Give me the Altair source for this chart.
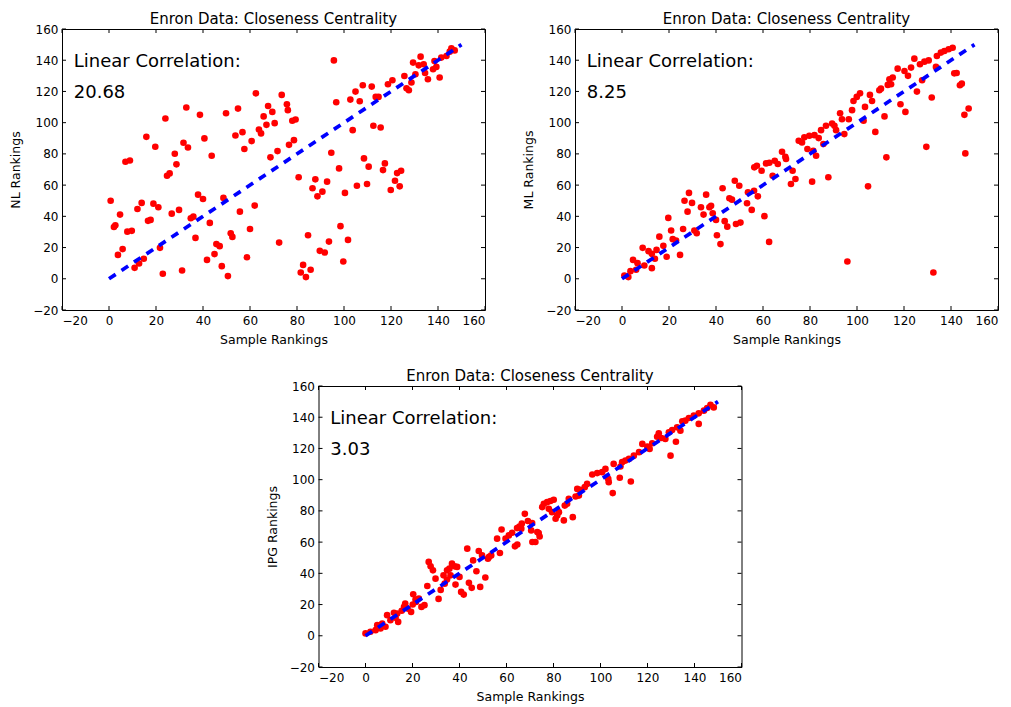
import altair as alt
import pandas as pd

# ---------------- data ----------------
nl_x = [62.5, 73.5, 32.9, 67.7, 38.7, 49.8, 54.9, 65.8, 69.5, 24.0, 67.0, 70.5, 63.8, 64.7, 56.8,
        53.8, 15.9, 40.6, 60.7, 31.7, 33.6, 19.7, 57.6, 71.7, 28.0, 43.7, 68.7, 7.0, 8.9, 28.7,
        24.7, 25.8, 95.7, 132.6, 129.4, 131.8, 133.9, 134.5, 135.7, 137.9, 139.3, 140.7, 130.4,
        141.4, 143.6, 145.7, 147.1, 145.0, 138.5, 125.7, 120.6, 118.7, 128.7, 126.6, 127.6, 108.0,
        111.8, 104.9, 113.5, 114.7, 102.7, 106.7, 96.7, 75.7, 76.1, 78.0, 79.4, 112.5, 115.6,
        103.7, 78.7, 76.6, 94.6, 108.5, 117.4, 97.9, 110.5, 116.6, 124.3, 122.6, 0.7, 4.7, 2.1,
        2.7, 7.8, 9.7, 3.8, 5.8, 10.9, 12.8, 14.8, 12.1, 13.9, 16.6, 17.7, 18.9, 21.0, 21.7, 22.9,
        26.7, 29.8, 31.1, 34.8, 35.9, 36.8, 37.9, 40.0, 42.9, 48.7, 41.7, 44.9, 45.7, 47.1, 48.0,
        50.6, 51.8, 52.5, 55.7, 60.0, 58.7, 62.0, 72.4, 80.7, 87.8, 86.6, 92.8, 90.8, 88.7, 100.4,
        105.5, 109.8, 119.9, 121.7, 123.7, 84.7, 98.5, 101.7, 93.6, 89.7, 91.8, 99.7, 82.6, 81.6,
        85.8, 83.8]
nl_y = [118.8, 117.8, 109.7, 110.7, 105.0, 106.0, 109.0, 104.0, 106.9, 102.7, 98.6, 99.7, 95.6,
        93.1, 93.9, 91.8, 90.9, 89.9, 88.2, 87.1, 84.1, 84.6, 83.1, 81.8, 80.1, 78.8, 77.8, 75.0,
        75.8, 73.3, 66.0, 67.5, 139.9, 142.3, 138.5, 136.7, 137.4, 131.8, 127.8, 134.2, 135.7,
        128.9, 131.0, 141.7, 142.7, 147.6, 146.3, 145.5, 139.5, 129.9, 127.2, 124.6, 125.7, 122.0,
        120.8, 124.0, 123.1, 119.9, 116.5, 116.5, 114.8, 113.7, 113.1, 111.8, 108.0, 101.2, 102.0,
        98.0, 96.9, 95.2, 88.8, 85.8, 80.7, 77.1, 73.9, 70.7, 71.8, 69.6, 69.2, 67.7, 50.0, 41.1,
        33.2, 34.3, 30.2, 30.7, 15.3, 19.0, 7.0, 9.8, 12.8, 44.7, 48.6, 37.1, 37.7, 48.1, 45.8,
        19.8, 3.2, 41.7, 44.1, 5.3, 38.8, 39.8, 26.2, 53.9, 51.1, 35.8, 51.8, 12.1, 15.8, 22.2,
        20.9, 8.1, 1.7, 29.2, 26.8, 43.0, 31.9, 13.8, 46.9, 23.2, 65.0, 63.7, 58.0, 62.2, 55.8,
        52.8, 55.0, 59.6, 60.7, 56.9, 62.8, 59.2, 27.9, 33.7, 24.9, 23.8, 17.9, 16.8, 11.1, 8.9,
        4.0, 5.8, 1.1]

ml_x = [68.1, 65.0, 62.7, 61.3, 66.3, 56.3, 57.4, 59.4, 69.8, 64.1, 71.9, 48.0, 49.9, 42.8, 28.5,
        26.6, 29.8, 35.8, 45.7, 46.8, 53.6, 53.2, 55.2, 56.2, 57.8, 33.6, 27.9, 37.2, 37.9, 34.7,
        38.6, 40.0, 43.7, 44.8, 48.5, 50.4, 19.7, 26.0, 20.9, 30.8, 31.8, 40.4, 41.9, 60.6, 62.6,
        15.9, 21.6, 23.0, 17.6, 19.0, 24.7, 8.8, 11.3, 12.7, 14.7, 14.0, 4.7, 6.6, 9.5, 12.7, 6.0,
        3.6, 1.0, 2.7, 140.7, 139.0, 137.2, 135.7, 134.0, 130.5, 128.7, 126.8, 124.4, 123.0, 121.7,
        120.2, 117.3, 115.2, 113.8, 114.5, 113.1, 110.2, 109.5, 105.5, 101.3, 99.9, 98.5, 106.4,
        103.4, 97.9, 92.8, 93.6, 96.5, 89.4, 90.4, 86.8, 84.7, 91.1, 94.6, 102.8, 111.7, 107.8,
        81.9, 79.7, 77.6, 75.2, 76.6, 83.7, 85.7, 78.9, 81.4, 82.6, 69.5, 72.6, 118.5, 120.6,
        125.5, 127.7, 131.8, 133.6, 141.4, 142.4, 143.8, 144.6, 145.7, 147.5, 146.1, 129.5, 112.5,
        73.8, 80.9, 87.8, 104.7, 95.9, 132.5]
ml_y = [81.4, 75.6, 74.3, 73.9, 73.5, 71.4, 72.4, 69.2, 76.7, 66.0, 60.7, 62.8, 59.6, 58.0, 55.0,
        50.0, 48.6, 53.9, 51.6, 50.7, 55.4, 48.4, 44.1, 56.4, 52.8, 45.8, 43.0, 45.8, 46.8, 41.1,
        42.0, 37.7, 36.9, 33.4, 35.1, 36.0, 39.0, 31.9, 30.9, 30.9, 29.2, 27.9, 22.2, 40.1, 23.6,
        27.0, 25.4, 24.5, 21.1, 14.1, 15.3, 19.8, 17.7, 16.0, 18.5, 12.8, 12.1, 10.0, 8.5, 6.8, 5.8,
        4.9, 2.1, 1.1, 148.0, 147.0, 145.9, 144.9, 142.7, 139.9, 139.1, 137.4, 141.0, 135.3, 130.0,
        133.1, 134.6, 128.9, 127.8, 124.6, 124.2, 121.8, 120.8, 117.8, 118.8, 116.5, 113.9, 113.9,
        110.1, 108.0, 106.0, 102.2, 102.2, 99.5, 98.0, 98.0, 95.2, 95.2, 92.7, 101.2, 104.0, 94.1,
        92.0, 91.6, 90.6, 88.4, 87.3, 90.1, 86.3, 83.1, 82.0, 78.8, 78.1, 69.2, 111.8, 106.9,
        119.9, 127.2, 116.1, 135.7, 131.6, 131.8, 124.0, 125.0, 105.0, 109.1, 80.3, 84.5, 77.8,
        63.9, 62.2, 65.0, 59.2, 11.1, 4.0]

ipg_x = [67.8, 69.1, 65.5, 64.5, 57.9, 62.4, 70.5, 146.8, 148.2, 145.4, 144.0, 141.8, 139.7, 137.6,
         136.1, 134.8, 141.8, 132.6, 130.5, 129.1, 134.0, 124.8, 124.1, 125.9, 127.6, 132.1, 122.0,
         119.9, 120.9, 117.8, 116.4, 129.8, 114.2, 112.1, 110.6, 105.6, 108.5, 109.2, 102.1, 100.7,
         98.6, 96.5, 103.3, 103.5, 108.2, 112.9, 105.2, 94.3, 93.3, 91.5, 90.1, 90.8, 89.4, 86.5,
         85.8, 84.8, 80.1, 78.7, 77.3, 75.9, 75.2, 78.0, 79.4, 82.3, 81.6, 80.9, 84.4, 88.2, 70.9,
         73.7, 0.0, 2.1, 4.3, 5.0, 7.1, 8.5, 6.4, 9.2, 10.6, 12.8, 13.5, 12.1, 13.9, 15.4, 16.4,
         17.9, 16.9, 19.4, 20.1, 21.5, 20.3, 23.8, 25.1, 22.7, 21.3, 26.3, 26.9, 27.7, 28.7, 29.8,
         32.0, 31.1, 33.2, 34.7, 35.7, 36.8, 37.9, 36.2, 34.7, 33.7, 39.0, 40.0, 38.3, 40.7, 41.8,
         43.3, 44.0, 45.2, 45.8, 48.2, 47.2, 48.8, 51.0, 49.6, 52.1, 52.6, 53.5, 56.0, 57.2, 59.6,
         61.0, 63.6, 64.6, 66.3, 66.5, 71.0, 73.1, 74.1, 72.3]
ipg_y = [78.1, 73.5, 70.0, 69.0, 68.1, 66.0, 67.5, 148.0, 146.3, 145.9, 144.2, 142.5, 141.0, 139.5,
         137.8, 137.4, 135.7, 133.5, 131.8, 130.4, 131.4, 129.7, 127.5, 126.7, 126.1, 124.3, 123.3,
         121.2, 119.7, 122.9, 117.6, 115.4, 115.4, 113.3, 112.2, 110.1, 108.4, 111.2, 106.9, 104.8,
         104.2, 103.3, 100.5, 98.4, 101.2, 98.8, 91.4, 97.3, 95.2, 93.5, 94.1, 89.8, 89.2, 87.7,
         84.5, 83.4, 87.1, 86.3, 85.6, 84.5, 82.4, 81.3, 79.2, 79.2, 77.1, 75.0, 73.9, 76.0, 72.2,
         65.8, 1.5, 2.6, 3.6, 6.8, 7.9, 5.8, 4.7, 13.2, 10.0, 11.5, 14.2, 14.7, 8.9, 16.0, 18.5,
         17.4, 20.6, 15.3, 20.0, 21.7, 26.6, 18.5, 19.6, 23.8, 23.2, 31.9, 47.3, 44.5, 41.9, 36.6,
         29.4, 23.6, 38.7, 41.9, 43.0, 46.2, 44.5, 38.7, 36.0, 33.4, 44.1, 37.7, 32.8, 28.1, 26.4,
         55.8, 33.9, 30.7, 48.3, 54.3, 41.3, 31.3, 37.3, 51.5, 49.4, 50.5, 51.5, 62.2, 53.0, 62.2,
         64.3, 57.3, 58.5, 68.6, 71.8, 60.1, 66.5, 63.6, 60.1]

fit_x = [0, 150]
fit_y = [0, 150]
tick_values = [-20, 0, 20, 40, 60, 80, 100, 120, 140, 160]
chart_title = "Enron Data: Closeness Centrality"
x_title = "Sample Rankings"
y_titles = ["NL Rankings", "ML Rankings", "IPG Rankings"]
corr_label = "Linear Correlation:"
corr_values = ["20.68", "8.25", "3.03"]
text_x = [-15, -15]
text_y = [135.8, 116.0]

# ---------------- styling ----------------
W, H = 423, 281
FONT = "DejaVu Sans"
TICK = 4


def panel(xs, ys, ytitle, corr):
    xscale = alt.Scale(domain=[-20, 160], nice=False, zero=False)
    yscale = alt.Scale(domain=[-20, 160], nice=False, zero=False)
    xaxis = alt.Axis(values=tick_values, ticks=False, tickSize=0, domain=False, grid=False,
                     labelPadding=5, labelFontSize=12, labelFont=FONT, labelColor="black",
                     title=x_title, titleFont=FONT, titleFontSize=12.5, titleFontWeight="normal",
                     titleColor="black", titlePadding=7, format="d")
    yaxis = alt.Axis(values=tick_values, ticks=False, tickSize=0, domain=False, grid=False,
                     labelPadding=4, labelFontSize=12, labelFont=FONT, labelColor="black",
                     title=ytitle, titleFont=FONT, titleFontSize=12.5, titleFontWeight="normal",
                     titleColor="black", titlePadding=10, format="d")
    X = alt.X("x:Q", scale=xscale, axis=xaxis)
    Y = alt.Y("y:Q", scale=yscale, axis=yaxis)

    pts = alt.Chart(pd.DataFrame({"x": xs, "y": ys})).mark_circle(
        size=44, color="#ff0000", opacity=1).encode(x=X, y=Y)
    fit = alt.Chart(pd.DataFrame({"x": fit_x, "y": fit_y})).mark_line(
        color="#0000ff", strokeWidth=3.75, strokeDash=[8, 7]).encode(x=X, y=Y)
    txt = alt.Chart(pd.DataFrame({"x": text_x, "y": text_y, "t": [corr_label, corr]})).mark_text(
        align="left", baseline="alphabetic", fontSize=18, font=FONT, color="black").encode(
        x=X, y=Y, text="t:N")

    tdf = pd.DataFrame({"x": tick_values, "y": tick_values})
    xt_bot = alt.Chart(tdf).mark_rule(color="black", strokeWidth=1).encode(
        x=X, y=alt.value(H), y2=alt.value(H - TICK))
    xt_top = alt.Chart(tdf).mark_rule(color="black", strokeWidth=1).encode(
        x=X, y=alt.value(0), y2=alt.value(TICK))
    yt_l = alt.Chart(tdf).mark_rule(color="black", strokeWidth=1).encode(
        y=Y, x=alt.value(0), x2=alt.value(TICK))
    yt_r = alt.Chart(tdf).mark_rule(color="black", strokeWidth=1).encode(
        y=Y, x=alt.value(W), x2=alt.value(W - TICK))

    return alt.layer(pts, fit, txt, xt_bot, xt_top, yt_l, yt_r).properties(
        width=W, height=H,
        title=alt.TitleParams(chart_title, font=FONT, fontSize=15, fontWeight="normal",
                              color="black", offset=-4))


p1 = panel(nl_x, nl_y, y_titles[0], corr_values[0])
p2 = panel(ml_x, ml_y, y_titles[1], corr_values[1])
p3 = panel(ipg_x, ipg_y, y_titles[2], corr_values[2])

top = alt.hconcat(p1, p2, spacing=36)
chart = alt.vconcat(top, p3, spacing=22, center=True).properties(
    padding={"left": 1, "top": 3, "right": 1, "bottom": 1}).configure_view(
    stroke="black", strokeWidth=1)

chart.save("out.html", embed_options={"renderer": "svg", "actions": False})
